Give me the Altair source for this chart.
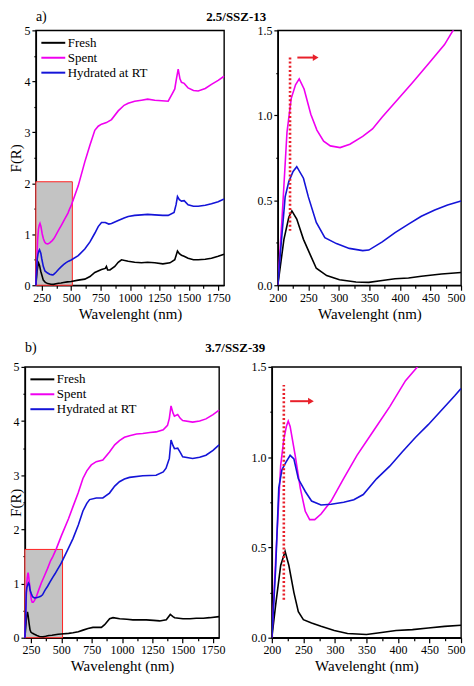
import altair as alt
import pandas as pd

FONT = "Liberation Serif"
SERIES = ["Fresh", "Spent", "Hydrated at RT"]
COLORS = ["#000000", "#f000f0", "#1414d8"]
RED = "#e8202a"

a_fresh_nm = [200, 210, 218, 223, 231, 242, 253, 263, 280, 301, 328, 349, 371, 392, 414, 435, 468, 500,
              560, 616, 660, 701, 758, 790, 800, 810, 830, 871, 900, 928, 985, 1040, 1098, 1150, 1211,
              1280, 1340, 1381, 1404, 1420, 1438, 1460, 1494, 1540, 1580, 1640, 1693, 1750, 1800]
a_fresh_f = [0, 0.27, 0.40, 0.438, 0.39, 0.27, 0.18, 0.10, 0.057, 0.032, 0.019, 0.017, 0.028, 0.038, 0.043,
             0.053, 0.066, 0.075, 0.10, 0.12, 0.17, 0.25, 0.31, 0.33, 0.37, 0.30, 0.30, 0.37, 0.45, 0.50,
             0.47, 0.45, 0.44, 0.45, 0.44, 0.42, 0.44, 0.50, 0.67, 0.62, 0.59, 0.57, 0.53, 0.50, 0.50, 0.51,
             0.53, 0.57, 0.61]
a_spent_nm = [200, 207, 215, 222, 229, 235, 243, 254, 264, 275, 286, 302, 318, 339, 355, 371, 393, 420, 446,
              473, 487, 500, 560, 616, 660, 701, 730, 758, 800, 843, 900, 950, 985, 1040, 1098, 1150, 1211,
              1270, 1325, 1360, 1381, 1395, 1410, 1425, 1438, 1461, 1494, 1540, 1580, 1640, 1693, 1750, 1800]
a_spent_f = [0, 0.40, 0.90, 1.10, 1.18, 1.215, 1.155, 1.006, 0.913, 0.848, 0.82, 0.81, 0.83, 0.876, 0.92,
             0.99, 1.08, 1.19, 1.30, 1.416, 1.50, 1.56, 1.95, 2.42, 2.75, 3.04, 3.12, 3.16, 3.19, 3.25, 3.42,
             3.53, 3.57, 3.61, 3.63, 3.65, 3.63, 3.62, 3.61, 3.76, 3.85, 4.05, 4.24, 4.05, 3.98, 3.96, 3.87,
             3.82, 3.81, 3.86, 3.94, 4.02, 4.10]
a_hyd_nm = [200, 204, 212, 218, 225, 231, 242, 250, 263, 277, 296, 317, 339, 349, 371, 392, 414, 435, 457,
            478, 500, 560, 616, 660, 701, 730, 758, 790, 820, 843, 900, 950, 985, 1040, 1098, 1150, 1211,
            1280, 1325, 1375, 1392, 1404, 1420, 1438, 1461, 1494, 1540, 1580, 1640, 1693, 1750, 1800]
a_hyd_f = [0, 0.18, 0.52, 0.61, 0.67, 0.698, 0.63, 0.52, 0.37, 0.28, 0.245, 0.217, 0.204, 0.207, 0.255,
           0.31, 0.36, 0.406, 0.443, 0.472, 0.496, 0.58, 0.71, 0.85, 1.02, 1.15, 1.23, 1.23, 1.20, 1.21,
           1.27, 1.32, 1.35, 1.37, 1.38, 1.39, 1.38, 1.37, 1.37, 1.43, 1.58, 1.74, 1.68, 1.65, 1.66, 1.58,
           1.55, 1.55, 1.57, 1.60, 1.64, 1.69]

b_fresh_nm = [200, 206, 214, 221, 227, 235, 242, 250, 263, 278, 299, 320, 350, 371, 397, 423, 448, 474, 500,
              560, 596, 640, 679, 720, 761, 800, 830, 857, 898, 926, 981, 1040, 1090, 1150, 1200, 1260,
              1310, 1365, 1398, 1420, 1434, 1502, 1560, 1612, 1670, 1722, 1800]
b_fresh_f = [0, 0.18, 0.40, 0.478, 0.40, 0.25, 0.144, 0.10, 0.081, 0.063, 0.040, 0.023, 0.018, 0.027, 0.040,
             0.045, 0.054, 0.063, 0.069, 0.08, 0.09, 0.11, 0.14, 0.17, 0.19, 0.19, 0.19, 0.24, 0.35, 0.37,
             0.35, 0.34, 0.33, 0.33, 0.33, 0.32, 0.31, 0.33, 0.43, 0.39, 0.37, 0.35, 0.35, 0.36, 0.36, 0.37,
             0.39]
b_spent_nm = [200, 206, 214, 219, 223, 226, 229, 237, 245, 253, 260, 268, 278, 294, 314, 335, 361, 387, 412,
              430, 460, 500, 560, 596, 640, 678, 710, 747, 788, 842, 897, 940, 979, 1020, 1062, 1120, 1171,
              1230, 1281, 1340, 1375, 1390, 1404, 1420, 1432, 1459, 1480, 1500, 1582, 1640, 1692, 1750, 1800]
b_spent_f = [0, 0.43, 0.955, 1.10, 1.17, 1.20, 1.17, 1.01, 0.83, 0.70, 0.654, 0.654, 0.685, 0.757, 0.883,
             1.01, 1.145, 1.28, 1.424, 1.496, 1.65, 1.88, 2.20, 2.42, 2.68, 2.94, 3.08, 3.19, 3.25, 3.28,
             3.43, 3.56, 3.64, 3.70, 3.73, 3.76, 3.77, 3.79, 3.80, 3.84, 3.92, 4.05, 4.28, 4.15, 4.09, 4.12,
             4.05, 4.01, 3.98, 4.00, 4.04, 4.12, 4.20]
b_hyd_nm = [200, 206, 211, 216, 222, 229, 235, 242, 253, 263, 278, 294, 314, 330, 345, 366, 387, 407, 428,
            448, 469, 490, 500, 560, 596, 640, 678, 710, 733, 788, 842, 897, 940, 979, 1020, 1062, 1171,
            1281, 1340, 1363, 1390, 1404, 1420, 1432, 1459, 1480, 1500, 1582, 1640, 1692, 1750, 1800]
b_hyd_f = [0, 0.38, 0.83, 0.93, 0.97, 1.01, 0.99, 0.88, 0.81, 0.757, 0.735, 0.739, 0.75, 0.764, 0.793,
           0.88, 0.95, 1.03, 1.11, 1.18, 1.26, 1.34, 1.38, 1.66, 1.83, 2.08, 2.34, 2.48, 2.55, 2.58, 2.58,
           2.67, 2.80, 2.88, 2.93, 2.96, 2.99, 3.00, 3.06, 3.13, 3.31, 3.65, 3.55, 3.49, 3.50, 3.42, 3.34,
           3.31, 3.33, 3.37, 3.46, 3.56]

a_box_nm = [200, 510]
a_box_f = [0, 2.03]
b_box_nm = [200, 510]
b_box_f = [0, 1.63]
a_dot_nm = 220
a_dot_f = [0.32, 1.34]
a_arrow_nm = [232, 262]
a_arrow_f = 1.34
b_dot_nm = 219
b_dot_f = [0.21, 1.40]
b_arrow_nm = [229, 262]
b_arrow_f = 1.31


def build_df(items):
    rows = []
    for name, nm, f in items:
        if len(nm) != len(f):
            raise ValueError(f"length mismatch for {name}: {len(nm)} vs {len(f)}")
        for x, y in zip(nm, f):
            rows.append({"series": name, "nm": x, "F": y})
    return pd.DataFrame(rows)


df_a = build_df([("Fresh", a_fresh_nm, a_fresh_f), ("Spent", a_spent_nm, a_spent_f),
                 ("Hydrated at RT", a_hyd_nm, a_hyd_f)])
df_b = build_df([("Fresh", b_fresh_nm, b_fresh_f), ("Spent", b_spent_nm, b_spent_f),
                 ("Hydrated at RT", b_hyd_nm, b_hyd_f)])

XTITLE = "Wavelenght (nm)"


def x_left(field):
    return alt.X(field, type="quantitative", title=XTITLE,
                 scale=alt.Scale(domain=[200, 1800], nice=False, zero=False),
                 axis=alt.Axis(values=list(range(250, 1751, 125)), format="d",
                               labelExpr="datum.value % 250 === 0 ? datum.label : ''",
                               tickSize={"condition": {"test": "datum.value % 250 === 0", "value": 5}, "value": 3},
                               labelFlush=False, labelOverlap=False, titlePadding=3))


def y_left(field, compact):
    extra = {"titleX": -1} if compact else {"titlePadding": 0}
    return alt.Y(field, type="quantitative", title="F(R)",
                 scale=alt.Scale(domain=[0, 5], nice=False),
                 axis=alt.Axis(values=[i * 0.5 for i in range(11)],
                               labelExpr="datum.value % 1 === 0 ? '' + datum.value : ''",
                               tickSize={"condition": {"test": "datum.value % 1 === 0", "value": 4}, "value": 2},
                               labelFlush=False, labelOverlap=False, **extra))


def x_right(field):
    return alt.X(field, type="quantitative", title=XTITLE,
                 scale=alt.Scale(domain=[200, 500], nice=False, zero=False),
                 axis=alt.Axis(values=list(range(200, 501, 25)), format="d",
                               labelExpr="datum.value % 50 === 0 ? datum.label : ''",
                               tickSize={"condition": {"test": "datum.value % 50 === 0", "value": 5}, "value": 3},
                               labelOffset={"condition": {"test": "datum.value === 500", "value": -5}, "value": 0},
                               labelFlush=False, labelOverlap=False, titlePadding=3))


def y_right(field):
    return alt.Y(field, type="quantitative", title=None,
                 scale=alt.Scale(domain=[0, 1.5], nice=False),
                 axis=alt.Axis(values=[i * 0.25 for i in range(7)],
                               labelExpr="datum.value % 0.5 === 0 ? format(datum.value, '.1f') : ''",
                               tickSize={"condition": {"test": "datum.value % 0.5 === 0", "value": 4}, "value": 2},
                               labelFlush=False, labelOverlap=False))


def color_enc(show_legend):
    if show_legend:
        lg = alt.Legend(orient="none", legendX=11, legendY=6, title=None,
                        symbolType="M-3,0H3", symbolSize=64, symbolStrokeWidth=2,
                        labelFont=FONT, labelFontSize=13, labelColor="black",
                        labelOffset=8, rowPadding=1, padding=0)
        return alt.Color("series:N", scale=alt.Scale(domain=SERIES, range=COLORS), legend=lg)
    return alt.Color("series:N", scale=alt.Scale(domain=SERIES, range=COLORS), legend=None)


def left_panel(df, box_nm, box_f, label, w, h, compact, label_offset):
    box = pd.DataFrame({"x1": [box_nm[0]], "x2": [box_nm[1]], "y1": [box_f[0]], "y2": [box_f[1]]})
    rect = alt.Chart(box).mark_rect(fill="#c3c3c3", stroke="#ff2020", strokeWidth=1).encode(
        x=x_left("x1"), x2="x2:Q", y=y_left("y1", compact), y2="y2:Q")
    lines = alt.Chart(df).mark_line(strokeWidth=1.6).encode(
        x=x_left("nm"), y=y_left("F", compact), color=color_enc(True), order="nm:Q")
    return alt.layer(rect, lines).properties(
        width=w, height=h,
        title=alt.TitleParams(label, anchor="start", frame="group", fontSize=14, fontWeight="normal",
                              font=FONT, offset=label_offset))


def right_panel(df, dot_nm, dot_f, arrow_nm, arrow_f, w, h, row_title, title_dx, label_offset):
    lines = alt.Chart(df[df["nm"] <= 500]).mark_line(strokeWidth=1.6, clip=True).encode(
        x=x_right("nm"), y=y_right("F"), color=color_enc(False), order="nm:Q")
    dot = pd.DataFrame({"x": [dot_nm], "y1": [dot_f[0]], "y2": [dot_f[1]]})
    dotted = alt.Chart(dot).mark_rule(color=RED, strokeDash=[2, 2.2], strokeWidth=2.6).encode(
        x=x_right("x"), y=y_right("y1"), y2="y2:Q")
    arr = pd.DataFrame({"x1": [arrow_nm[0]], "x2": [arrow_nm[1]], "y": [arrow_f]})
    shaft = alt.Chart(arr).mark_rule(color=RED, strokeWidth=2).encode(
        x=x_right("x1"), x2="x2:Q", y=y_right("y"))
    head = alt.Chart(arr).mark_point(shape="triangle-right", filled=True, size=45, color=RED,
                                     opacity=1).encode(x=x_right("x2"), y=y_right("y"))
    return alt.layer(lines, dotted, shaft, head).properties(
        width=w, height=h,
        title=alt.TitleParams(row_title, anchor="start", frame="group", dx=title_dx, fontSize=13,
                              fontWeight="bold", font=FONT, offset=label_offset))


# invisible 1px spacer that lets the top row's plots sit further right than the bottom row's
spacer = alt.Chart(pd.DataFrame({"v": [0]})).mark_point(opacity=0).properties(
    width=1, height=1, view=alt.ViewBackground(strokeOpacity=0))

inner_a = alt.hconcat(
    left_panel(df_a, a_box_nm, a_box_f, "a)", 189, 256, False, 0),
    right_panel(df_a, a_dot_nm, a_dot_f, a_arrow_nm, a_arrow_f, 184, 256, "2.5/SSZ-13", -72, 0),
    spacing=54, bounds="flush",
).resolve_scale(color="independent")

row_a = alt.hconcat(spacer, inner_a, spacing=10, bounds="flush").resolve_scale(color="independent")

row_b = alt.hconcat(
    left_panel(df_b, b_box_nm, b_box_f, "b)", 195, 272, True, 6),
    right_panel(df_b, b_dot_nm, b_dot_f, b_arrow_nm, b_arrow_f, 190, 272, "3.7/SSZ-39", -67, 6),
    spacing=53, bounds="flush",
).resolve_scale(color="independent")

chart = alt.vconcat(row_a, row_b, spacing=18).resolve_scale(color="independent").properties(
    padding=0, background="white"
).configure_axis(
    grid=False, domainColor="black", domainWidth=1.4, tickColor="black", tickWidth=1.2,
    labelFont=FONT, labelFontSize=12, labelColor="black", labelPadding=2,
    titleFont=FONT, titleFontSize=15, titleFontWeight="normal", titleColor="black",
).configure_view(stroke="black", strokeWidth=1.4).configure_title(color="black")

chart.save("out.html", embed_options={"renderer": "svg", "actions": False})
